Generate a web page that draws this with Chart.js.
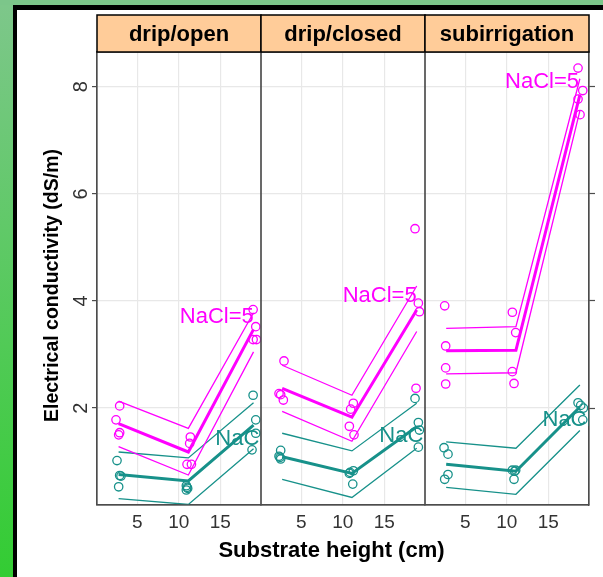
<!DOCTYPE html>
<html>
<head>
<meta charset="utf-8">
<script src="https://cdn.jsdelivr.net/npm/chart.js@4/dist/chart.umd.min.js"></script>
<style>
  html, body { margin: 0; padding: 0; background: #fff; }
  body { width: 603px; height: 577px; position: relative; overflow: hidden; }
  .greenLeft { position: absolute; left: 0; top: 0; width: 13px; height: 577px; background: linear-gradient(#7ec78b, #33cc33); }
  .greenTop { position: absolute; left: 0; top: 0; width: 603px; height: 5px; background: #7cc68a; }
  .blackTop { position: absolute; left: 13px; top: 5px; width: 590px; height: 5px; background: #000; }
  .blackLeft { position: absolute; left: 13px; top: 5px; width: 4px; height: 572px; background: #000; }
  #ec { position: absolute; left: 17px; top: 10px; }
</style>
</head>
<body>
<div class="greenLeft"></div>
<div class="greenTop"></div>
<div class="blackTop"></div>
<div class="blackLeft"></div>
<canvas id="ec" width="586" height="567"></canvas>
<script>
const panels = ['drip/open', 'drip/closed', 'subirrigation'];
const salts = ['NaCl=5', 'NaCl=0'];
const xTicks = [5, 10, 15];
const yTicks = [2, 4, 6, 8];
const xTitle = 'Substrate height (cm)';
const yTitle = 'Electrical conductivity (dS/m)';

// fitted lines (mean and upper/lower band), one row per panel
const fitX = [[2.75, 11.15, 19.0], [2.7, 11.1, 18.9], [2.7, 11.1, 18.8]];
const fit5 = [[1.71, 1.18, 3.47], [2.37, 1.83, 3.83], [3.07, 3.08, 7.85]];
const fit5Upper = [[2.13, 1.62, 3.78], [2.80, 2.24, 4.28], [3.49, 3.52, 8.15]];
const fit5Lower = [[1.28, 0.75, 3.05], [1.94, 1.38, 3.43], [2.64, 2.66, 7.55]];
const fit0 = [[0.76, 0.64, 1.68], [1.09, 0.78, 1.65], [0.95, 0.82, 2.02]];
const fit0Upper = [[1.18, 1.07, 2.10], [1.53, 1.20, 2.09], [1.37, 1.25, 2.43]];
const fit0Lower = [[0.31, 0.20, 1.24], [0.67, 0.33, 1.25], [0.52, 0.39, 1.58]];

// observations
const obs5X = [
  [2.44, 2.88, 2.88, 2.76, 11.39, 11.31, 10.99, 11.52, 18.95, 19.27, 18.95, 19.35],
  [2.92, 2.32, 2.52, 2.84, 11.27, 10.95, 10.79, 11.35, 18.7, 19.1, 19.23, 18.82],
  [2.52, 2.64, 2.64, 2.64, 10.67, 11.07, 10.67, 10.87, 18.58, 19.15, 18.58, 18.82]
];
const obs5Y = [
  [1.78, 2.04, 1.54, 1.50, 1.46, 1.34, 0.95, 0.95, 3.84, 3.52, 3.28, 3.28],
  [2.88, 2.27, 2.25, 2.15, 2.09, 1.98, 1.66, 1.50, 5.35, 3.96, 3.80, 2.37],
  [3.91, 3.16, 2.75, 2.45, 3.79, 3.41, 2.68, 2.46, 8.35, 7.93, 7.77, 7.48]
];
const obs0X = [
  [2.56, 2.88, 3.04, 2.76, 10.91, 11.07, 10.91, 11.0, 18.95, 19.27, 19.27, 18.82],
  [2.52, 2.32, 2.52, 2.45, 10.87, 11.27, 10.79, 11.2, 18.7, 19.1, 19.23, 19.1],
  [2.44, 2.92, 2.92, 2.52, 10.67, 11.07, 10.95, 10.87, 18.58, 18.9, 19.23, 19.15]
];
const obs0Y = [
  [1.02, 0.74, 0.73, 0.53, 0.55, 0.50, 0.47, 0.52, 2.24, 1.78, 1.53, 1.22],
  [1.21, 1.10, 1.05, 1.08, 0.80, 0.83, 0.78, 0.58, 2.18, 1.73, 1.59, 1.27],
  [1.26, 1.14, 0.76, 0.67, 0.84, 0.84, 0.82, 0.67, 2.10, 2.05, 2.00, 1.78]
];

// where the group labels sit
const label5X = [19.03, 18.9, 18.7];
const label5Y = [3.70, 4.10, 8.09];
const label0X = [14.4, 14.4, 14.3];
const label0Y = [1.42, 1.48, 1.77];

const magenta = '#ff00ff';
const teal = '#17918a';
const family = '"Liberation Sans", Arial, sans-serif';
Chart.defaults.font.family = family;

function lineSet(i, ys, color, width) {
  return {
    xAxisID: 'x' + i, yAxisID: 'y',
    data: fitX[i].map((x, k) => ({ x: x, y: ys[i][k] })),
    showLine: true, borderColor: color, borderWidth: width,
    pointRadius: 0, tension: 0, fill: false
  };
}

function pointSet(i, xs, ys, color) {
  return {
    xAxisID: 'x' + i, yAxisID: 'y',
    data: xs[i].map((x, k) => ({ x: x, y: ys[i][k] })),
    showLine: false, borderColor: color, backgroundColor: 'rgba(0,0,0,0)',
    pointRadius: 4.2, borderWidth: 1.3
  };
}

function xAxis() {
  return {
    type: 'linear', axis: 'x', position: 'bottom', stack: 'panel', stackWeight: 1,
    min: 0.15, max: 19.9,
    afterBuildTicks: s => { s.ticks = xTicks.map(v => ({ value: v })); },
    afterFit: s => { s.height = 72; },
    grid: { color: '#e8e8e8', lineWidth: 1.2, drawTicks: false },
    border: { display: true, color: '#4d4d4d', width: 1.2 },
    ticks: { color: '#333', font: { size: 19 }, padding: 6, maxRotation: 0, autoSkip: false }
  };
}

const datasets = [];
panels.forEach((p, i) => {
  datasets.push(lineSet(i, fit5, magenta, 3));
  datasets.push(lineSet(i, fit5Upper, magenta, 1.3));
  datasets.push(lineSet(i, fit5Lower, magenta, 1.3));
  datasets.push(lineSet(i, fit0, teal, 3));
  datasets.push(lineSet(i, fit0Upper, teal, 1.3));
  datasets.push(lineSet(i, fit0Lower, teal, 1.3));
  datasets.push(pointSet(i, obs5X, obs5Y, magenta));
  datasets.push(pointSet(i, obs0X, obs0Y, teal));
});

const panelDecor = {
  id: 'panelDecor',
  afterDatasetsDraw(c) {
    const ctx = c.ctx;
    const a = c.chartArea;
    const y = c.scales.y;
    panels.forEach((p, i) => {
      const xs = c.scales['x' + i];
      // group labels, clipped to the panel
      ctx.save();
      ctx.beginPath();
      ctx.rect(xs.left, a.top, xs.width, a.bottom - a.top);
      ctx.clip();
      ctx.font = '22px ' + family;
      ctx.textBaseline = 'middle';
      ctx.fillStyle = magenta;
      ctx.textAlign = 'right';
      ctx.fillText(salts[0], xs.getPixelForValue(label5X[i]), y.getPixelForValue(label5Y[i]));
      ctx.fillStyle = teal;
      ctx.textAlign = 'left';
      ctx.fillText(salts[1], xs.getPixelForValue(label0X[i]), y.getPixelForValue(label0Y[i]));
      ctx.restore();

      ctx.save();
      ctx.strokeStyle = '#4d4d4d';
      ctx.lineWidth = 1.2;
      ctx.strokeRect(xs.left, a.top, xs.width, a.bottom - a.top);
      // strip
      ctx.fillStyle = '#ffcc99';
      ctx.fillRect(xs.left, a.top - 37, xs.width, 37);
      ctx.strokeStyle = '#000';
      ctx.lineWidth = 1.5;
      ctx.strokeRect(xs.left, a.top - 37, xs.width, 37);
      ctx.fillStyle = '#000';
      ctx.font = 'bold 22px ' + family;
      ctx.textAlign = 'center';
      ctx.textBaseline = 'alphabetic';
      ctx.fillText(p, xs.left + xs.width / 2, a.top - 11.3);
      ctx.restore();
    });

    // y tick labels, turned
    ctx.save();
    ctx.fillStyle = '#333';
    ctx.font = '20px ' + family;
    ctx.textAlign = 'center';
    ctx.textBaseline = 'middle';
    yTicks.forEach(v => {
      ctx.save();
      ctx.translate(64.5, y.getPixelForValue(v));
      ctx.rotate(-Math.PI / 2);
      ctx.fillText(String(v), 0, 0);
      ctx.restore();
    });
    ctx.restore();

    // axis titles
    ctx.save();
    ctx.fillStyle = '#000';
    ctx.font = 'bold 19.5px ' + family;
    ctx.textAlign = 'center';
    ctx.textBaseline = 'middle';
    ctx.translate(35.5, 275.5);
    ctx.rotate(-Math.PI / 2);
    ctx.fillText(yTitle, 0, 0);
    ctx.restore();

    ctx.save();
    ctx.fillStyle = '#000';
    ctx.font = 'bold 22px ' + family;
    ctx.textAlign = 'center';
    ctx.textBaseline = 'alphabetic';
    ctx.fillText(xTitle, 314.5, 546.7);
    ctx.restore();
  }
};

let chart = new Chart(document.getElementById('ec').getContext('2d'), {
  type: 'scatter',
  data: { datasets: datasets },
  options: {
    responsive: false,
    animation: false,
    layout: { padding: { top: 42, left: 0, right: 0, bottom: 0 } },
    plugins: { legend: { display: false }, tooltip: { enabled: false } },
    scales: {
      x0: xAxis(),
      x1: xAxis(),
      x2: xAxis(),
      y: {
        type: 'linear', axis: 'y', position: 'left', min: 0.19, max: 8.65,
        afterBuildTicks: s => { s.ticks = yTicks.map(v => ({ value: v })); },
        afterFit: s => { s.width = 80; },
        grid: { color: '#e8e8e8', lineWidth: 1.2, tickColor: '#4d4d4d', tickLength: 5, tickWidth: 1.2 },
        border: { color: '#4d4d4d', width: 1.2 },
        ticks: { display: false }
      },
      yr: {
        type: 'linear', axis: 'y', position: 'right', min: 0.19, max: 8.65,
        afterBuildTicks: s => { s.ticks = yTicks.map(v => ({ value: v })); },
        afterFit: s => { s.width = 14; },
        grid: { drawOnChartArea: false, tickColor: '#4d4d4d', tickLength: 6, tickWidth: 1.2 },
        border: { color: '#4d4d4d', width: 1.2 },
        ticks: { display: false }
      }
    }
  },
  plugins: [panelDecor]
});
</script>
</body>
</html>
